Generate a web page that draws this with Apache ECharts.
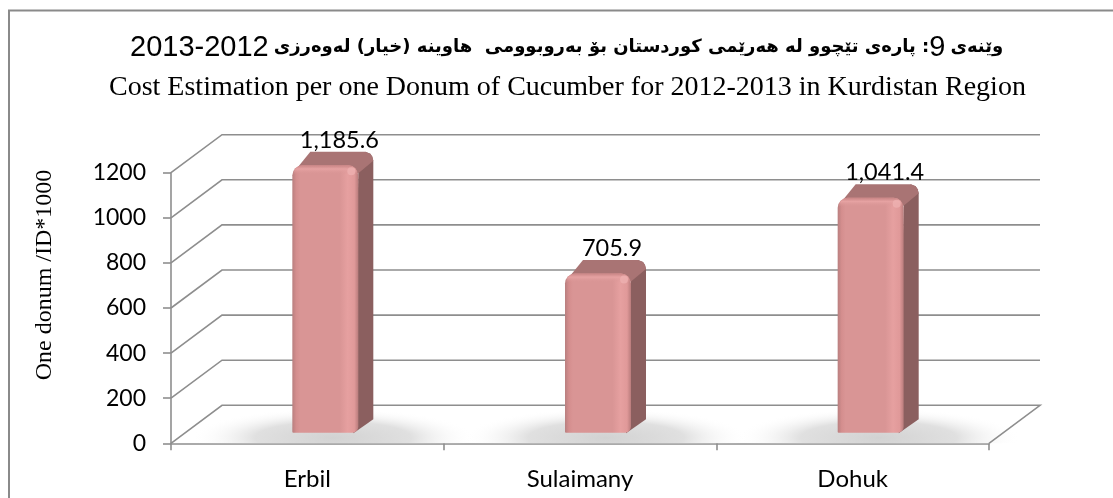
<!DOCTYPE html>
<html>
<head>
<meta charset="utf-8">
<style>
  html, body { margin: 0; padding: 0; background: #fff; }
  #main { width: 1113px; height: 498px; }
</style>
<script src="https://cdn.jsdelivr.net/npm/echarts@6/dist/echarts.min.js"></script>
</head>
<body>
<div id="main"></div>
<script>
var categories = ['Erbil', 'Sulaimany', 'Dohuk'];
var costValues = [1185.6, 705.9, 1041.4];
var yTicks = [0, 200, 400, 600, 800, 1000, 1200];

var titleYear = '2013-2012';
var titleKurdishA = 'پارەی تێچوو لە هەرێمی کوردستان بۆ بەروبوومی  هاوینە (خیار) لەوەرزی';
var titleNumber = '9';
var titleKurdishB = 'وێنەی';
var titleEnglish = 'Cost Estimation per one Donum of Cucumber for 2012-2013 in Kurdistan Region';
var yAxisName = 'One donum /ID*1000';

var chart = echarts.init(document.getElementById('main'));

// fake 3d box: depth of the walls and of the bars
var wallDX = 51, wallDY = -38;
var barDX = 15, barDY = -13.5;
var barW = 66, barShift = 18, barLift = 10.6;

function gridlineItem(params, api) {
    var p = api.coord([0, api.value(1)]);
    var cs = params.coordSys;
    var x0 = cs.x, y = p[1];
    var pts = [[x0, y], [x0 + wallDX, y + wallDY], [x0 + cs.width + wallDX, y + wallDY]];
    if (api.value(1) === 0) {
        pts.push([x0 + cs.width, y]);
    }
    return {
        type: 'polyline',
        shape: { points: pts },
        style: { stroke: '#8e8e8e', lineWidth: 1.6, fill: null }
    };
}

function shadowItem(params, api) {
    var p = api.coord([api.value(0), 0]);
    return {
        type: 'rect',
        x: p[0] + barShift + 8,
        y: p[1] - 18.5,
        scaleX: 4.8,
        shape: { x: -30, y: -18.5, width: 60, height: 37 },
        style: {
            fill: new echarts.graphic.RadialGradient(0.5, 0.85, 0.8, [
                { offset: 0, color: '#d2d2d2' },
                { offset: 0.55, color: '#e0e0e0' },
                { offset: 1, color: 'rgba(255,255,255,0)' }
            ])
        }
    };
}

function barItem(params, api) {
    var top = api.coord([api.value(0), api.value(1)]);
    var x = top[0] + barShift - barW / 2;
    var yTop = top[1] - barLift;
    var yBot = api.coord([api.value(0), 0])[1] - barLift;
    var h = yBot - yTop;
    var xr = x + barW, xb = xr + barDX, yb = yTop + barDY;
    return {
        type: 'group',
        children: [
            {
                type: 'polygon',
                shape: {
                    points: [[xr - 5, yBot + 0.5], [xb, yBot + barDY], [xb, yb + 9], [xb - 1, yb + 5], [xb - 3, yb + 2],
                        [xb - 8, yb], [xr, yTop + 6]]
                },
                style: { fill: '#8b5f5f' }
            },
            {
                type: 'polygon',
                shape: {
                    points: [[x + 3, yTop + 5], [x + barDX + 3, yb], [xb - 8, yb], [xb - 3, yb + 2], [xb - 1, yb + 5],
                        [xb, yb + 9], [xr, yTop + 8]]
                },
                style: { fill: '#a97474' }
            },
            {
                type: 'rect',
                shape: { x: x, y: yTop, width: barW, height: h, r: [10, 10, 6, 1] },
                style: {
                    fill: new echarts.graphic.LinearGradient(0, 0, 1, 0, [
                        { offset: 0, color: '#b97f7f' },
                        { offset: 0.06, color: '#d48e8e' },
                        { offset: 0.12, color: '#d99595' },
                        { offset: 0.72, color: '#d99595' },
                        { offset: 0.84, color: '#e6a0a0' },
                        { offset: 0.94, color: '#e09999' },
                        { offset: 1, color: '#b97c7c' }
                    ])
                }
            },
            {
                type: 'rect',
                shape: { x: x + 1, y: yTop, width: barW - 2, height: 9, r: [9, 9, 0, 0] },
                style: {
                    fill: new echarts.graphic.LinearGradient(0, 0, 0, 1, [
                        { offset: 0, color: '#c98585' },
                        { offset: 0.4, color: '#e6a2a2' },
                        { offset: 1, color: 'rgba(217,149,149,0)' }
                    ])
                }
            },
            {
                type: 'circle',
                shape: { cx: xr - 7, cy: yTop + 6, r: 4 },
                style: { fill: '#f0b4b4', opacity: 0.7 }
            }
        ]
    };
}

function valueLabelItem(params, api) {
    var p = api.coord([api.value(0), api.value(1)]);
    var txt = api.value(1).toLocaleString('en-US', { minimumFractionDigits: 1 });
    return {
        type: 'text',
        x: p[0] + 32,
        y: p[1] - 36,
        style: {
            text: txt,
            fill: '#000',
            font: '23.5px Lato',
            align: 'center',
            verticalAlign: 'middle'
        }
    };
}

var option = {
    backgroundColor: '#fff',
    animation: false,
    title: [
        {
            text: '{y|' + titleYear + '} {ar|' + titleKurdishA + ' :}{n|' + titleNumber + '} {ar|' + titleKurdishB + '}',
            left: 125,
            top: 28,
            textStyle: {
                rich: {
                    y: { fontFamily: 'Liberation Sans', fontSize: 29, fontWeight: 'normal', color: '#000' },
                    n: { fontFamily: 'Liberation Sans', fontSize: 29, fontWeight: 'normal', color: '#000' },
                    ar: { fontFamily: 'DejaVu Sans', fontSize: 18, fontWeight: 'bold', color: '#000' }
                }
            }
        },
        {
            text: titleEnglish,
            left: 104,
            top: 69,
            textStyle: { fontFamily: 'Liberation Serif', fontSize: 28, fontWeight: 'normal', color: '#000' }
        }
    ],
    graphic: [
        {
            type: 'polyline',
            shape: { points: [[9, 498], [9, 10.5], [1113, 10.5]] },
            style: { stroke: '#8a8a8a', lineWidth: 2, fill: null }
        }
    ],
    grid: { left: 171, right: 124, top: 172.7, bottom: 54.7 },
    xAxis: {
        type: 'category',
        data: categories,
        axisLine: { lineStyle: { color: '#8e8e8e', width: 1.6 } },
        axisTick: { show: true, length: 7, alignWithLabel: false, lineStyle: { color: '#8e8e8e', width: 1.6 } },
        axisLabel: { color: '#000', fontFamily: 'Lato', fontSize: 24, margin: 24 }
    },
    yAxis: {
        type: 'value',
        min: 0,
        max: 1200,
        interval: 200,
        name: yAxisName,
        nameLocation: 'middle',
        nameGap: 114,
        nameRotate: 90,
        nameTextStyle: { color: '#000', fontFamily: 'Liberation Serif', fontSize: 24, padding: [0, 0, 0, 66] },
        splitLine: { show: false },
        axisLine: { show: true, lineStyle: { color: '#8e8e8e', width: 1.6 } },
        axisTick: { show: true, length: 8, lineStyle: { color: '#8e8e8e', width: 1.6 } },
        axisLabel: { color: '#000', fontFamily: 'Lato', fontSize: 23, margin: 25, formatter: function (v) { return String(v); } }
    },
    series: [
        {
            type: 'custom',
            z: 1,
            silent: true,
            renderItem: shadowItem,
            encode: { x: 0, y: 1 },
            data: categories.map(function (c, i) { return [i, 0]; })
        },
        {
            type: 'custom',
            z: 2,
            silent: true,
            renderItem: gridlineItem,
            encode: { x: 0, y: 1 },
            data: yTicks.map(function (t) { return [0, t]; })
        },
        {
            type: 'custom',
            z: 3,
            silent: true,
            renderItem: barItem,
            encode: { x: 0, y: 1 },
            data: costValues.map(function (v, i) { return [i, v]; })
        },
        {
            type: 'custom',
            z: 4,
            silent: true,
            renderItem: valueLabelItem,
            encode: { x: 0, y: 1 },
            data: costValues.map(function (v, i) { return [i, v]; })
        }
    ]
};

chart.setOption(option);
</script>
</body>
</html>
